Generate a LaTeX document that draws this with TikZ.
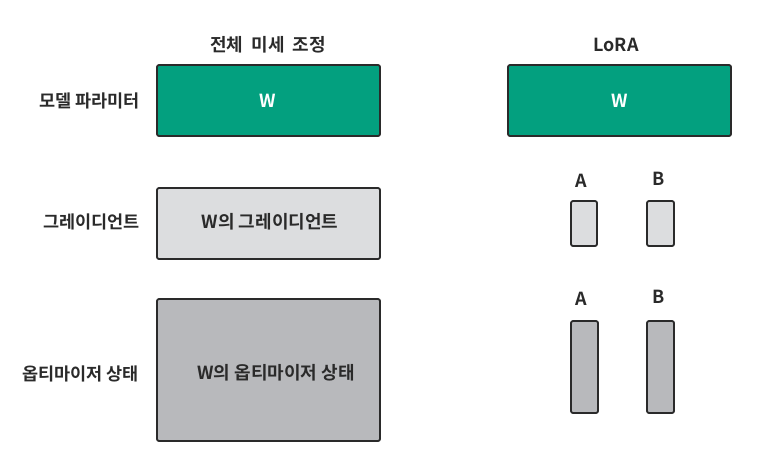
\documentclass[tikz,border=0pt]{standalone}
\usepackage{fontspec}
\setmainfont{Noto Sans CJK KR}[BoldFont={* Bold}]
\definecolor{pgreen}{HTML}{03A07F}
\definecolor{plight}{HTML}{DCDDDF}
\definecolor{pdark}{HTML}{B8B9BC}
\definecolor{pline}{HTML}{2A2A2A}
\tikzset{
  box/.style={draw=pline, line width=1.8pt, rounded corners=2pt},
  lbl/.style={font=\bfseries\fontsize{18}{21}\selectfont, text=pline, inner sep=0pt},
  rlbl/.style={font=\bfseries\fontsize{17.5}{21}\selectfont, text=pline, inner sep=0pt, anchor=east},
  wtext/.style={font=\bfseries\fontsize{18}{21}\selectfont, text=white, inner sep=0pt},
}
\begin{document}
\begin{tikzpicture}[x=1pt,y=-1pt]
\useasboundingbox (0,0) rectangle (759,451);
% titles
\node[lbl] (t1) at (268,45) {전체\ \ 미세\ \ 조정};
\node[lbl] (t2) at (616,45) {LoRA};
% row labels
\node[rlbl] (r1) at (140,101) {모델\ 파라미터};
\node[rlbl] (r2) at (140,222) {그레이디언트};
\node[rlbl] (r3) at (139,374) {옵티마이저\ 상태};
% full fine-tuning boxes
\draw[box, fill=pgreen] (157,65) rectangle (380,136);
\node[wtext] (w1) at (268,101) {W};
\draw[box, fill=plight] (157,188) rectangle (380,259);
\node[lbl] (g1) at (270,222) {W의\ 그레이디언트};
\draw[box, fill=pdark] (157,299) rectangle (380,441);
\node[lbl] (o1) at (276,373) {W의 옵티마이저\ 상태};
% LoRA
\draw[box, fill=pgreen] (508,65) rectangle (731,136);
\node[wtext] (w2) at (620,101) {W};
\node[lbl] (a1) at (581,181) {A};
\node[lbl] (b1) at (659,179) {B};
\draw[box, fill=plight] (571,201) rectangle (597,246);
\draw[box, fill=plight] (647,201) rectangle (674,246);
\node[lbl] (a2) at (581,299) {A};
\node[lbl] (b2) at (659,297) {B};
\draw[box, fill=pdark] (571,321) rectangle (598,413);
\draw[box, fill=pdark] (647,321) rectangle (674,413);
\end{tikzpicture}
\end{document}
